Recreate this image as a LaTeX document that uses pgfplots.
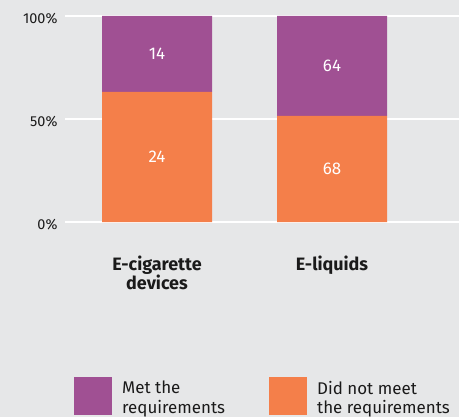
\documentclass[border=0pt]{standalone}
\usepackage{pgfplots}
\pgfplotsset{compat=1.18}
\usepackage{pgfplotstable}
\usepackage{fontspec}
\setmainfont{Fira Sans}
\definecolor{bg}{HTML}{E6E7E8}
\definecolor{cpurple}{HTML}{A05093}
\definecolor{corange}{HTML}{F47F4A}
\definecolor{ctext}{HTML}{1A1A1A}
\pgfplotstableread{
x dnpct dn metpct met
0 63.16 24 36.84 14
1 51.52 68 48.48 64
}\datatable
\begin{document}
\begin{tikzpicture}[x=1bp,y=1bp]
\fill[bg] (0,0) rectangle (459,417);
\useasboundingbox (0,0) rectangle (459,417);
\begin{axis}[
  at={(65bp,195bp)}, anchor=south west,
  scale only axis, width=394bp, height=206bp,
  ybar stacked, bar width=110bp,
  xmin=-0.5257, xmax=1.7257,
  ymin=0, ymax=100,
  clip=false,
  axis line style={draw=none},
  major tick length=0pt,
  ymajorgrids, grid style={white, line width=1.6bp},
  ytick={0,50,100}, yticklabels={0\%,50\%,100\%},
  yticklabel style={font=\fontsize{14.5}{18}\selectfont, text=ctext, xshift=-4bp, yshift=-3bp},
  xtick={0,1},
  xticklabels={{E-cigarette\\devices},{E-liquids}},
  xticklabel style={align=center, font=\bfseries\fontsize{18}{20}\selectfont, text=ctext, anchor=north, yshift=-30bp},
  nodes near coords={\pgfmathprintnumber[assume math mode=true]{\pgfplotspointmeta}},
  point meta=explicit,
  every node near coord/.append style={anchor=center, text=white, font=\fontsize{17}{20}\selectfont},
  legend style={at={(0.0228,-0.752)}, anchor=north west, draw=none, fill=none,
    inner sep=0pt, font=\fontsize{17}{20}\selectfont, text=ctext,
    cells={align=left, anchor=west},
    /tikz/every odd column/.append style={column sep=8bp},
    /tikz/every even column/.append style={column sep=42bp}},
  legend columns=2,
]
\addlegendimage{fill=cpurple, draw=none, legend image code/.code={\fill[cpurple] (0bp,-17bp) rectangle (38bp,21bp);}}
\addlegendentry{Met the\\requirements}
\addlegendimage{fill=corange, draw=none, legend image code/.code={\fill[corange] (0bp,-17bp) rectangle (38bp,21bp);}}
\addlegendentry{Did not meet\\the requirements}
\addplot[forget plot, fill=corange, draw=none] table[x=x, y=dnpct, meta=dn] \datatable;
\addplot[forget plot, fill=cpurple, draw=none] table[x=x, y=metpct, meta=met] \datatable;
\end{axis}
\end{tikzpicture}
\end{document}
